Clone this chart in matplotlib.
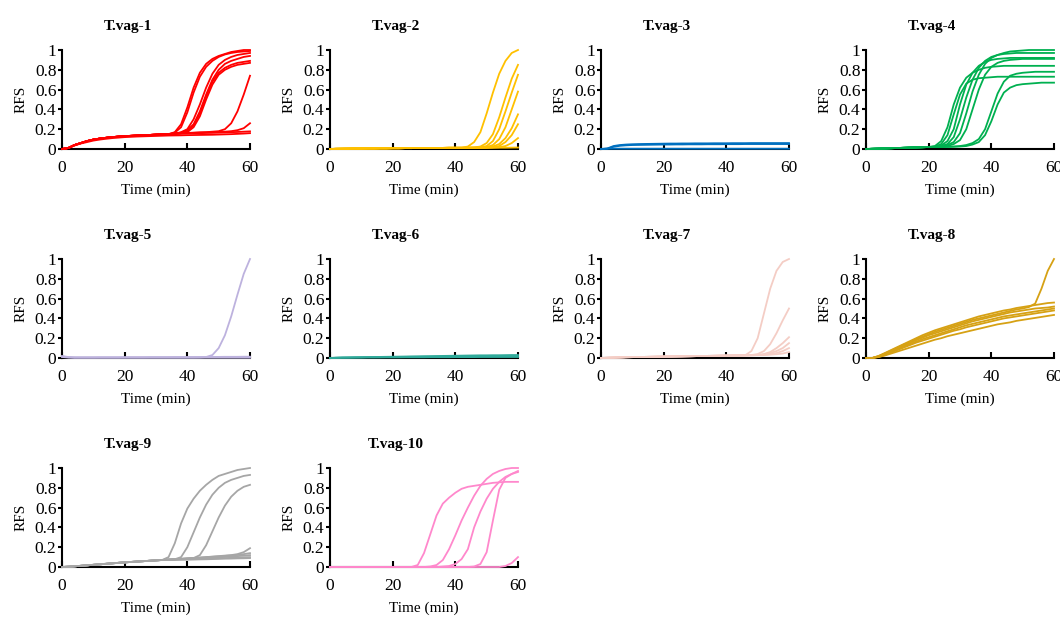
import matplotlib
matplotlib.use("Agg")
import matplotlib.pyplot as plt

plt.rcParams['font.family'] = ['Liberation Serif', 'DejaVu Serif']
plt.rcParams['font.size'] = 11

# time axis (min), one reading every 2 min
time_min = [0, 2, 4, 6, 8, 10, 12, 14, 16, 18, 20, 22, 24, 26, 28, 30,
            32, 34, 36, 38, 40, 42, 44, 46, 48, 50, 52, 54, 56, 58, 60]

# ---- T.vag-1 (red) : shared start 0..34 min, then each curve
red_start = [0, 0.01, 0.04, 0.06, 0.08, 0.095, 0.105, 0.113, 0.12, 0.125,
             0.13, 0.133, 0.136, 0.139, 0.142, 0.145, 0.148, 0.15]
red_tails = [
    [0.17, 0.25, 0.42, 0.62, 0.77, 0.86, 0.91, 0.94, 0.96, 0.98, 0.99, 1.0, 1.0],
    [0.165, 0.22, 0.37, 0.57, 0.73, 0.83, 0.89, 0.93, 0.955, 0.97, 0.98, 0.985, 0.99],
    [0.155, 0.17, 0.2, 0.3, 0.45, 0.62, 0.76, 0.85, 0.9, 0.93, 0.95, 0.96, 0.97],
    [0.155, 0.165, 0.19, 0.25, 0.38, 0.55, 0.7, 0.8, 0.86, 0.89, 0.91, 0.93, 0.94],
    [0.155, 0.16, 0.18, 0.24, 0.36, 0.53, 0.68, 0.77, 0.82, 0.85, 0.87, 0.88, 0.89],
    [0.155, 0.16, 0.17, 0.22, 0.33, 0.5, 0.65, 0.75, 0.8, 0.83, 0.85, 0.86, 0.87],
    [0.155, 0.16, 0.162, 0.165, 0.168, 0.17, 0.175, 0.18, 0.2, 0.26, 0.38, 0.55, 0.74],
    [0.155, 0.158, 0.16, 0.163, 0.166, 0.168, 0.17, 0.172, 0.175, 0.18, 0.19, 0.21, 0.26],
    [0.153, 0.155, 0.157, 0.159, 0.16, 0.162, 0.163, 0.165, 0.167, 0.17, 0.172, 0.175, 0.178],
]
red_low = [0, 0.01, 0.035, 0.055, 0.07, 0.085, 0.095, 0.103, 0.11, 0.115, 0.12,
           0.123, 0.126, 0.128, 0.13, 0.132, 0.134, 0.136, 0.137, 0.138, 0.14,
           0.141, 0.142, 0.143, 0.144, 0.146, 0.148, 0.15, 0.153, 0.156, 0.16]
red_curves = [red_start + t for t in red_tails] + [red_low]

# ---- T.vag-2 (yellow) : 0..40 min, then 42..60 min
yellow_start = [0, 0.002, 0.003, 0.004, 0.005, 0.005, 0.006, 0.006, 0.007, 0.007,
                0.008, 0.008, 0.009, 0.009, 0.01, 0.01, 0.01, 0.011, 0.011, 0.012, 0.012]
yellow_tails = [
    [0.013, 0.025, 0.07, 0.17, 0.36, 0.57, 0.76, 0.89, 0.97, 1.0],
    [0.012, 0.013, 0.015, 0.025, 0.06, 0.15, 0.32, 0.52, 0.71, 0.85],
    [0.012, 0.013, 0.014, 0.018, 0.03, 0.08, 0.2, 0.38, 0.57, 0.75],
    [0.012, 0.012, 0.013, 0.015, 0.02, 0.04, 0.1, 0.22, 0.4, 0.58],
    [0.012, 0.012, 0.013, 0.014, 0.016, 0.025, 0.05, 0.11, 0.21, 0.35],
    [0.012, 0.012, 0.012, 0.013, 0.014, 0.018, 0.03, 0.07, 0.14, 0.25],
    [0.012, 0.012, 0.012, 0.012, 0.013, 0.014, 0.018, 0.03, 0.06, 0.11],
    [0.012, 0.012, 0.012, 0.012, 0.012, 0.013, 0.013, 0.013, 0.014, 0.015],
]
yellow_curves = [yellow_start + t for t in yellow_tails]

# ---- T.vag-3 (blue)
blue_curves = [
    [0, 0.005, 0.03, 0.04, 0.045, 0.048, 0.05, 0.051, 0.052, 0.053, 0.054, 0.055,
     0.055, 0.056, 0.056, 0.057, 0.057, 0.057, 0.058, 0.058, 0.058, 0.059, 0.059,
     0.059, 0.06, 0.06, 0.06, 0.06, 0.06, 0.06, 0.06],
    [0, 0.004, 0.022, 0.032, 0.037, 0.04, 0.041, 0.042, 0.043, 0.044, 0.045, 0.045,
     0.046, 0.046, 0.047, 0.047, 0.047, 0.048, 0.048, 0.048, 0.049, 0.049, 0.049,
     0.05, 0.05, 0.05, 0.05, 0.05, 0.05, 0.05, 0.05],
    [0, 0.002, 0.003, 0.003, 0.003, 0.003, 0.003, 0.003, 0.003, 0.003, 0.003, 0.003,
     0.003, 0.003, 0.003, 0.003, 0.003, 0.003, 0.003, 0.003, 0.003, 0.003, 0.003,
     0.003, 0.003, 0.003, 0.003, 0.003, 0.003, 0.003, 0.003],
]

# ---- T.vag-4 (green) : 0..20 min, then 22..60 min
green_start = [0, 0.002, 0.004, 0.006, 0.008, 0.01, 0.012, 0.014, 0.016, 0.018, 0.02]
green_tails = [
    [0.03, 0.08, 0.22, 0.45, 0.62, 0.72, 0.77, 0.8, 0.82, 0.83, 0.835, 0.84, 0.84,
     0.84, 0.84, 0.84, 0.84, 0.84, 0.84, 0.84],
    [0.025, 0.05, 0.14, 0.35, 0.55, 0.66, 0.7, 0.715, 0.72, 0.725, 0.73, 0.73, 0.73,
     0.73, 0.73, 0.73, 0.73, 0.73, 0.73, 0.73],
    [0.02, 0.035, 0.08, 0.2, 0.45, 0.65, 0.77, 0.84, 0.88, 0.9, 0.91, 0.915, 0.92,
     0.92, 0.92, 0.92, 0.92, 0.92, 0.92, 0.92],
    [0.02, 0.03, 0.05, 0.12, 0.3, 0.52, 0.7, 0.82, 0.89, 0.93, 0.95, 0.96, 0.965,
     0.97, 0.97, 0.97, 0.97, 0.97, 0.97, 0.97],
    [0.02, 0.025, 0.04, 0.07, 0.16, 0.36, 0.58, 0.75, 0.86, 0.92, 0.95, 0.97, 0.985,
     0.99, 0.995, 1.0, 1.0, 1.0, 1.0, 1.0],
    [0.02, 0.022, 0.03, 0.05, 0.09, 0.2, 0.4, 0.6, 0.75, 0.83, 0.87, 0.89, 0.9,
     0.905, 0.91, 0.91, 0.91, 0.91, 0.91, 0.91],
    [0.02, 0.02, 0.022, 0.025, 0.03, 0.04, 0.06, 0.1, 0.2, 0.38, 0.56, 0.68, 0.74,
     0.76, 0.77, 0.775, 0.78, 0.78, 0.78, 0.78],
    [0.02, 0.02, 0.021, 0.023, 0.025, 0.03, 0.045, 0.07, 0.14, 0.28, 0.45, 0.57, 0.62,
     0.645, 0.655, 0.66, 0.665, 0.67, 0.67, 0.67],
]
green_curves = [green_start + t for t in green_tails]

# ---- T.vag-5 (lavender)
lav_curves = [
    [0.02, 0.01, 0.005, 0.005, 0.005, 0.005, 0.005, 0.005, 0.005, 0.005, 0.005,
     0.005, 0.005, 0.005, 0.005, 0.005, 0.005, 0.005, 0.005, 0.005, 0.005, 0.005,
     0.006, 0.01, 0.03, 0.1, 0.23, 0.42, 0.64, 0.85, 1.0],
    [0.015, 0.008, 0.006, 0.006, 0.006, 0.006, 0.007, 0.007, 0.007, 0.007, 0.008,
     0.008, 0.008, 0.008, 0.009, 0.009, 0.009, 0.009, 0.01, 0.01, 0.01, 0.01,
     0.01, 0.011, 0.011, 0.011, 0.012, 0.012, 0.012, 0.013, 0.013],
    [0.01, 0.004, 0.003, 0.003, 0.003, 0.003, 0.003, 0.003, 0.003, 0.003, 0.003,
     0.003, 0.003, 0.003, 0.003, 0.003, 0.003, 0.003, 0.003, 0.003, 0.003, 0.003,
     0.003, 0.003, 0.003, 0.003, 0.003, 0.003, 0.003, 0.003, 0.003],
]

# ---- T.vag-6 (teal)
teal_curves = [
    [0, 0.003, 0.005, 0.006, 0.007, 0.008, 0.009, 0.01, 0.011, 0.012, 0.013, 0.014,
     0.015, 0.016, 0.017, 0.018, 0.019, 0.02, 0.021, 0.022, 0.023, 0.024, 0.025,
     0.026, 0.027, 0.027, 0.028, 0.028, 0.029, 0.03, 0.03],
    [0, 0.002, 0.004, 0.005, 0.006, 0.007, 0.008, 0.008, 0.009, 0.01, 0.01, 0.011,
     0.011, 0.012, 0.012, 0.013, 0.013, 0.014, 0.014, 0.015, 0.015, 0.016, 0.016,
     0.017, 0.017, 0.018, 0.018, 0.019, 0.019, 0.02, 0.02],
    [0, 0.002, 0.003, 0.003, 0.004, 0.004, 0.005, 0.005, 0.005, 0.006, 0.006, 0.006,
     0.007, 0.007, 0.007, 0.007, 0.008, 0.008, 0.008, 0.008, 0.009, 0.009, 0.009,
     0.009, 0.01, 0.01, 0.01, 0.01, 0.01, 0.01, 0.01],
]

# ---- T.vag-7 (light pink) : 0..46 min, then 48..60 min
blush_start = [0, 0.002, 0.004, 0.006, 0.008, 0.009, 0.01, 0.011, 0.012, 0.013,
               0.014, 0.015, 0.016, 0.017, 0.018, 0.019, 0.02, 0.021, 0.022, 0.023,
               0.024, 0.025, 0.026, 0.027]
blush_tails = [
    [0.07, 0.2, 0.45, 0.7, 0.88, 0.97, 1.0],
    [0.03, 0.04, 0.07, 0.14, 0.25, 0.38, 0.5],
    [0.028, 0.03, 0.04, 0.06, 0.1, 0.15, 0.21],
    [0.028, 0.03, 0.035, 0.05, 0.07, 0.1, 0.15],
    [0.028, 0.029, 0.032, 0.04, 0.05, 0.07, 0.1],
    [0.028, 0.029, 0.03, 0.033, 0.038, 0.045, 0.06],
]
blush_curves = [blush_start + t for t in blush_tails]

# ---- T.vag-8 (goldenrod)
gold_curves = [
    [0, 0, 0.02, 0.05, 0.08, 0.11, 0.14, 0.17, 0.2, 0.23, 0.255, 0.28, 0.3, 0.32,
     0.34, 0.36, 0.38, 0.4, 0.42, 0.435, 0.45, 0.465, 0.48, 0.49, 0.505, 0.515,
     0.525, 0.535, 0.545, 0.555, 0.56],
    [0, 0, 0.02, 0.045, 0.075, 0.105, 0.135, 0.16, 0.19, 0.215, 0.24, 0.265, 0.285,
     0.305, 0.325, 0.345, 0.365, 0.385, 0.4, 0.415, 0.43, 0.445, 0.46, 0.475, 0.49,
     0.5, 0.515, 0.55, 0.7, 0.88, 1.0],
    [0, 0, 0.015, 0.04, 0.07, 0.1, 0.125, 0.15, 0.18, 0.205, 0.23, 0.25, 0.27, 0.29,
     0.31, 0.33, 0.35, 0.37, 0.385, 0.4, 0.415, 0.43, 0.445, 0.46, 0.47, 0.48, 0.49,
     0.5, 0.505, 0.51, 0.52],
    [0, 0, 0.015, 0.035, 0.065, 0.09, 0.115, 0.14, 0.165, 0.19, 0.21, 0.23, 0.25,
     0.27, 0.29, 0.31, 0.33, 0.345, 0.36, 0.375, 0.39, 0.405, 0.42, 0.43, 0.44, 0.45,
     0.46, 0.47, 0.48, 0.49, 0.5],
    [0, 0, 0.01, 0.03, 0.055, 0.08, 0.105, 0.13, 0.155, 0.175, 0.195, 0.215, 0.235,
     0.255, 0.275, 0.29, 0.31, 0.325, 0.34, 0.355, 0.37, 0.385, 0.4, 0.41, 0.42, 0.43,
     0.44, 0.45, 0.46, 0.47, 0.48],
    [0, 0, 0.01, 0.025, 0.045, 0.065, 0.085, 0.105, 0.125, 0.145, 0.165, 0.185, 0.2,
     0.22, 0.235, 0.25, 0.265, 0.28, 0.295, 0.31, 0.325, 0.34, 0.35, 0.36, 0.375,
     0.385, 0.395, 0.405, 0.415, 0.425, 0.435],
]

# ---- T.vag-9 (grey) : 0..32 min, then 34..60 min
grey_start = [0, 0.003, 0.007, 0.012, 0.017, 0.022, 0.027, 0.032, 0.037, 0.042,
              0.047, 0.051, 0.055, 0.059, 0.063, 0.067, 0.071]
grey_tails = [
    [0.1, 0.24, 0.44, 0.59, 0.69, 0.77, 0.83, 0.88, 0.92, 0.94, 0.96, 0.98, 0.99, 1.0],
    [0.075, 0.078, 0.1, 0.2, 0.35, 0.5, 0.63, 0.73, 0.8, 0.85, 0.88, 0.9, 0.92, 0.93],
    [0.075, 0.078, 0.081, 0.085, 0.09, 0.12, 0.22, 0.36, 0.5, 0.62, 0.71, 0.77, 0.81, 0.83],
    [0.075, 0.079, 0.083, 0.087, 0.091, 0.095, 0.1, 0.105, 0.11, 0.115, 0.12, 0.13, 0.15, 0.19],
    [0.075, 0.079, 0.083, 0.087, 0.091, 0.095, 0.099, 0.103, 0.107, 0.112, 0.117, 0.122, 0.13, 0.14],
    [0.074, 0.077, 0.08, 0.083, 0.086, 0.089, 0.092, 0.095, 0.098, 0.102, 0.106, 0.11, 0.115, 0.12],
    [0.072, 0.074, 0.076, 0.078, 0.08, 0.082, 0.084, 0.086, 0.088, 0.09, 0.092, 0.095, 0.098, 0.1],
    [0.07, 0.072, 0.073, 0.074, 0.075, 0.077, 0.078, 0.08, 0.082, 0.084, 0.085, 0.087, 0.088, 0.09],
]
grey_curves = [grey_start + t for t in grey_tails]

# ---- T.vag-10 (pink) : 0..26 min, then 28..60 min
pink_start = [0, 0, 0, 0, 0, 0, 0, 0, 0, 0, 0, 0, 0, 0]
pink_tails = [
    [0.02, 0.14, 0.33, 0.52, 0.64, 0.7, 0.75, 0.79, 0.81, 0.82, 0.83, 0.84, 0.85,
     0.855, 0.86, 0.86, 0.86],
    [0, 0, 0.005, 0.02, 0.07, 0.18, 0.32, 0.47, 0.6, 0.72, 0.82, 0.89, 0.94, 0.97,
     0.99, 1.0, 1.0],
    [0, 0, 0, 0, 0.005, 0.01, 0.03, 0.08, 0.18, 0.4, 0.56, 0.69, 0.79, 0.86, 0.91,
     0.94, 0.96],
    [0, 0, 0, 0, 0, 0, 0, 0, 0, 0.005, 0.03, 0.15, 0.47, 0.78, 0.9, 0.94, 0.97],
    [0, 0, 0, 0, 0, 0, 0, 0, 0, 0, 0, 0, 0, 0, 0.01, 0.04, 0.1],
]
pink_curves = [pink_start + t for t in pink_tails]

titles = ["T.vag-1", "T.vag-2", "T.vag-3", "T.vag-4", "T.vag-5",
          "T.vag-6", "T.vag-7", "T.vag-8", "T.vag-9", "T.vag-10"]
colors = ["#FF0000", "#FFC000", "#0070C0", "#00B050", "#BDB2DE",
          "#2FAA9A", "#F4CDC5", "#D6A114", "#A6A6A6", "#FF88CC"]
curves = [red_curves, yellow_curves, blue_curves, green_curves, lav_curves,
          teal_curves, blush_curves, gold_curves, grey_curves, pink_curves]

W, H = 1060, 617
fig = plt.figure(figsize=(W / 100, H / 100), dpi=100)

col_left = [62, 330, 601, 866]
row_top = [50, 259, 468]
aw, ah = 188, 99

for k in range(len(titles)):
    r, c = divmod(k, 4)
    ax = fig.add_axes([col_left[c] / W, 1 - (row_top[r] + ah) / H, aw / W, ah / H])
    for y in curves[k]:
        ax.plot(time_min, y, color=colors[k], lw=1.3, clip_on=False, zorder=3)
    ax.set_xlim(0, 60)
    ax.set_ylim(0, 1)
    ax.set_xticks([0, 20, 40, 60])
    ax.set_yticks([0, 0.2, 0.4, 0.6, 0.8, 1.0])
    ax.set_yticklabels(['0', '0.2', '0.4', '0.6', '0.8', '1'])
    for s in ['top', 'right']:
        ax.spines[s].set_visible(False)
    for s in ['left', 'bottom']:
        ax.spines[s].set_linewidth(1.5)
    ax.tick_params(axis='x', direction='in', length=4, width=1.5, pad=8,
                   labelsize=12.5)
    ax.tick_params(axis='y', direction='out', length=3, width=1.5, pad=1,
                   labelsize=12.5)
    ax.set_xlabel('Time (min)', labelpad=5)
    ax.set_ylabel('RFS', labelpad=5)
    ax.text(0.35, 1.207, titles[k], transform=ax.transAxes, ha='center',
            va='baseline', fontweight='bold')

fig.savefig('out.png', dpi=100)
